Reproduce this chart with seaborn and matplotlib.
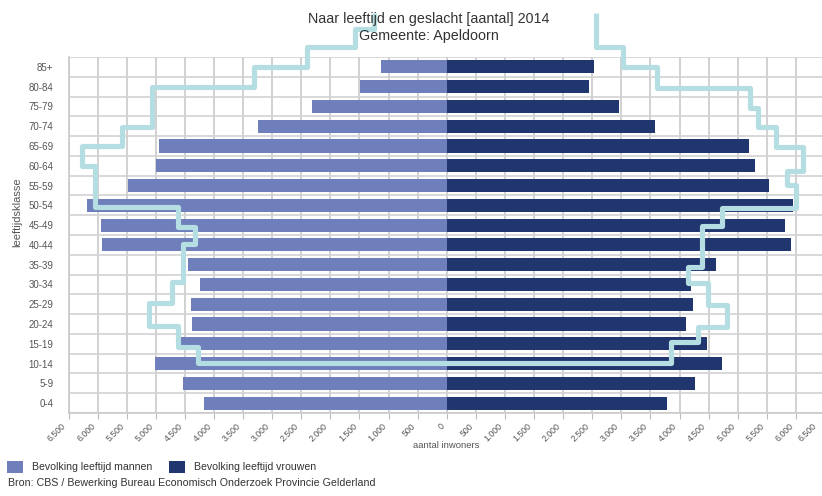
import matplotlib
matplotlib.use("Agg")
import matplotlib.pyplot as plt
import matplotlib.patches as mpatches
import matplotlib.transforms as mtransforms
from matplotlib.ticker import FixedLocator, FuncFormatter
import pandas as pd
import seaborn as sns

# Age groups, top of the pyramid first
leeftijd = ["85+", "80-84", "75-79", "70-74", "65-69", "60-64", "55-59", "50-54",
            "45-49", "40-44", "35-39", "30-34", "25-29", "20-24", "15-19",
            "10-14", "5-9", "0-4"]

# Inhabitants per age group, Gemeente Apeldoorn 2014
mannen = [1130, 1490, 2310, 3240, 4950, 4990, 5470, 6190, 5940, 5920,
          4450, 4240, 4390, 4380, 4560, 5020, 4530, 4180]
vrouwen = [2530, 2440, 2960, 3580, 5200, 5300, 5540, 5950, 5810, 5920,
           4620, 4200, 4240, 4110, 4470, 4730, 4260, 3780]

# Comparison outline: step levels and the row positions where each level starts/ends
outline_m_breaks = [-2.75, -1.93, -1.0, 0.0, 1.0, 3.05, 4.0, 5.03, 7.06, 8.1,
                    8.93, 10.86, 11.93, 13.1, 14.16, 14.97]
outline_m_levels = [1250, 1570, 2410, 3320, 5060, 5580, 6260, 6040, 4610, 4320,
                    4530, 4730, 5110, 4610, 4270]
outline_v_breaks = [-2.75, -1.02, 0.0, 1.07, 2.08, 3.05, 4.06, 5.28, 5.99, 7.16,
                    8.02, 10.1, 10.91, 12.03, 13.15, 13.91, 14.97]
outline_v_levels = [2570, 3030, 3620, 5210, 5350, 5660, 6130, 5850, 6000, 4730,
                    4390, 4150, 4490, 4820, 4320, 3860]

x_ticks = list(range(-6500, 6501, 500))

kleur_mannen = "#6f7fbb"
kleur_vrouwen = "#21366f"
kleur_outline = "#b5dee2"
tekst = "#333333"
grijs = "#555555"

sns.set_theme(style="white")
plt.rcParams["font.family"] = ["Liberation Sans", "DejaVu Sans"]

fig = plt.figure(figsize=(8.22, 4.96), dpi=100)
W, H = 822, 496
left, right, top, bottom = 68.5, 825.0, 57.0, 413.0
ax = fig.add_axes([left / W, 1 - bottom / H, (right - left) / W, (bottom - top) / H])

df_m = pd.DataFrame({"leeftijd": leeftijd, "aantal": [-v for v in mannen]})
df_v = pd.DataFrame({"leeftijd": leeftijd, "aantal": vrouwen})

sns.barplot(data=df_m, x="aantal", y="leeftijd", order=leeftijd, orient="h",
            color=kleur_mannen, saturation=1, width=0.66, ax=ax, zorder=3,
            linewidth=0)
sns.barplot(data=df_v, x="aantal", y="leeftijd", order=leeftijd, orient="h",
            color=kleur_vrouwen, saturation=1, width=0.66, ax=ax, zorder=3,
            linewidth=0)

# Step outline: women side top to bottom, across, then men side bottom to top
ox, oy = [], []
for i, lvl in enumerate(outline_v_levels):
    ox += [lvl, lvl]
    oy += [outline_v_breaks[i], outline_v_breaks[i + 1]]
m_pts_x, m_pts_y = [], []
for i, lvl in enumerate(outline_m_levels):
    m_pts_x += [-lvl, -lvl]
    m_pts_y += [outline_m_breaks[i], outline_m_breaks[i + 1]]
ox += m_pts_x[::-1]
oy += m_pts_y[::-1]
df_o = pd.DataFrame({"x": ox, "y": oy})
sns.lineplot(data=df_o, x="x", y="y", sort=False, estimator=None, ax=ax,
             color=kleur_outline, linewidth=3.7, zorder=5, clip_on=False,
             solid_joinstyle="round", solid_capstyle="butt")

ax.set_xlim(-6500, 6500)
ax.set_ylim(17.5, -0.5)

# Grid: vertical every 500, horizontal between the age groups
ax.xaxis.set_major_locator(FixedLocator(x_ticks))
ax.set_yticks(range(len(leeftijd)))
ax.set_yticks([i + 0.5 for i in range(-1, len(leeftijd))], minor=True)
ax.grid(False)
ax.grid(True, axis="x", which="major", color="#cacaca", linewidth=1.2, zorder=0)
ax.grid(True, axis="y", which="minor", color="#d2d2d6", linewidth=1.2, zorder=0)
ax.set_axisbelow(True)


def fmt(v, pos):
    return f"{abs(int(v)):,}".replace(",", ".")


ax.xaxis.set_major_formatter(FuncFormatter(fmt))
ax.tick_params(axis="x", which="major", length=4, width=0.8, color="#bbbbbb",
               labelsize=6.3, labelcolor=grijs, pad=2, bottom=True)
xlabels = ax.get_xticklabels()
for k, lab in enumerate(xlabels):
    dx = -5 if k < len(xlabels) - 1 else -9
    shift = mtransforms.ScaledTranslation(dx / 72, 0, fig.dpi_scale_trans)
    lab.set_rotation(45)
    lab.set_ha("right")
    lab.set_va("top")
    lab.set_rotation_mode("anchor")
    lab.set_transform(lab.get_transform() + shift)
ax.tick_params(axis="y", which="both", length=0, labelsize=7,
               labelcolor=grijs, pad=11)
ax.set_yticklabels(leeftijd)

for s in ["top", "right"]:
    ax.spines[s].set_visible(False)
for s in ["left", "bottom"]:
    ax.spines[s].set_color("#cacaca")
    ax.spines[s].set_linewidth(1.2)

ax.set_xlabel("")
ax.set_ylabel("")
fig.text(446.7 / W, 1 - 446 / H, "aantal inwoners", ha="center", va="center",
         fontsize=6.8, color=grijs)
fig.text(17 / W, 1 - 212 / H, "leeftijdsklasse", ha="center", va="center",
         rotation=90, fontsize=8, color=grijs)

fig.text(429 / W, 1 - 19 / H, "Naar leeftijd en geslacht [aantal] 2014",
         ha="center", va="center", fontsize=10.3, color=tekst)
fig.text(429 / W, 1 - 36 / H, "Gemeente: Apeldoorn",
         ha="center", va="center", fontsize=10.3, color=tekst)

handles = [mpatches.Patch(facecolor=kleur_mannen, edgecolor="none"),
           mpatches.Patch(facecolor=kleur_vrouwen, edgecolor="none")]
fig.legend(handles, ["Bevolking leeftijd mannen", "Bevolking leeftijd vrouwen"],
           loc="upper left", bbox_to_anchor=(7 / W, 1 - 461 / H), ncol=2,
           frameon=False, fontsize=7.6, handlelength=1.5, handleheight=1.35,
           handletextpad=0.85, columnspacing=1.6, borderpad=0, borderaxespad=0,
           labelcolor=tekst)

fig.text(8 / W, 1 - 483 / H,
         "Bron: CBS / Bewerking Bureau Economisch Onderzoek Provincie Gelderland",
         ha="left", va="center", fontsize=7.7, color=tekst)

fig.savefig("out.png", dpi=100, facecolor="white")
